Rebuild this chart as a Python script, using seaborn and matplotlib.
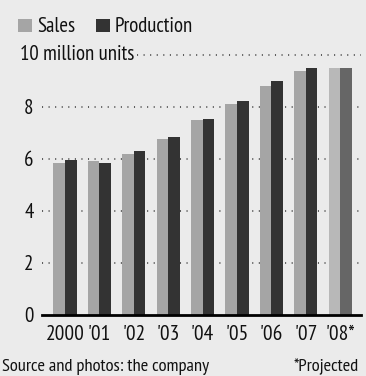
import matplotlib
matplotlib.use("Agg")
import matplotlib.pyplot as plt
from matplotlib.patches import Rectangle
import seaborn as sns
import pandas as pd

years = ["2000", "'01", "'02", "'03", "'04", "'05", "'06", "'07", "'08*"]
sales = [5.86, 5.93, 6.20, 6.77, 7.50, 8.13, 8.82, 9.40, 9.50]
production = [5.97, 5.86, 6.32, 6.86, 7.55, 8.24, 9.01, 9.50, 9.50]
series = ["Sales", "Production"]
yticks = [0, 2, 4, 6, 8]
unit_label = "10 million units"
source_note = "Source and photos: the company"
proj_note = "*Projected"

BG = "#ebebeb"
C_SALES, C_PROD = "#a5a5a5", "#333333"
C_SALES_P, C_PROD_P = "#b8b8b8", "#666666"
TXT = "#111111"

sns.set_style("white")
FONT = ["PT Sans Narrow", "DejaVu Sans"]
plt.rcParams["font.family"] = FONT

df = pd.DataFrame({
    "year": years * 2,
    "value": sales + production,
    "series": [series[0]] * len(years) + [series[1]] * len(years),
})

W, H = 366, 376
fig = plt.figure(figsize=(W / 100, H / 100), dpi=100, facecolor=BG)
ax_left, ax_right, ax_bot, ax_top = 42, 361, 315, 55
ax = fig.add_axes([ax_left / W, 1 - ax_bot / H, (ax_right - ax_left) / W, (ax_bot - ax_top) / H])
ax.set_facecolor(BG)

sns.barplot(data=df, x="year", y="value", hue="series", order=years, hue_order=series,
            palette=[C_SALES, C_PROD], width=0.68, gap=0, ax=ax, legend=False,
            saturation=1, zorder=3)
for cont, pc in zip(ax.containers, [C_SALES_P, C_PROD_P]):
    for p in cont.patches:
        p.set_edgecolor("none")
    cont.patches[-1].set_facecolor(pc)

px_per_unit = 34.4
c0 = 65
ax.set_xlim(-(c0 - ax_left) / px_per_unit, 8 + (ax_right - (c0 + 8 * px_per_unit)) / px_per_unit)
ax.set_ylim(0, 10)

for v in yticks[1:]:
    ax.axhline(v, color="#333333", lw=1.1, ls=(0, (0.7, 3.6)), zorder=1)
x_start = (137 - ax_left) / (ax_right - ax_left)
ax.axhline(10, xmin=x_start, xmax=1, color="#333333", lw=1.1, ls=(0, (0.7, 3.6)), zorder=1, clip_on=False)

for s in ["top", "right", "left"]:
    ax.spines[s].set_visible(False)
ax.spines["bottom"].set_linewidth(2)
ax.spines["bottom"].set_color("black")
ax.spines["bottom"].set_zorder(5)

ax.set_yticks(yticks)
ax.set_yticklabels([str(v) for v in yticks])
ax.tick_params(axis="y", length=0, pad=6, labelsize=15, colors=TXT)
ax.tick_params(axis="x", length=5, width=1, direction="out", pad=2, labelsize=15.5, colors="black",
               labelcolor=TXT)
ax.set_xlabel("")
ax.set_ylabel("")

fig.text(20 / W, 1 - 54 / H, unit_label, ha="left", va="center", fontsize=15, color=TXT)

fig.patches.append(Rectangle((18 / W, 1 - 32 / H), 14 / W, 13 / H, transform=fig.transFigure,
                             facecolor=C_SALES, edgecolor="none"))
fig.text(37 / W, 1 - 27 / H, series[0], ha="left", va="center", fontsize=15, color=TXT)
fig.patches.append(Rectangle((96 / W, 1 - 32 / H), 14 / W, 13 / H, transform=fig.transFigure,
                             facecolor=C_PROD, edgecolor="none"))
fig.text(115 / W, 1 - 27 / H, series[1], ha="left", va="center", fontsize=15, color=TXT)

fig.text(2 / W, 1 - 367 / H, source_note, ha="left", va="center", fontsize=13.3, color=TXT)
fig.text(359 / W, 1 - 367 / H, proj_note, ha="right", va="center", fontsize=13.3, color=TXT)

fig.savefig("out.png", dpi=100, facecolor=BG)
